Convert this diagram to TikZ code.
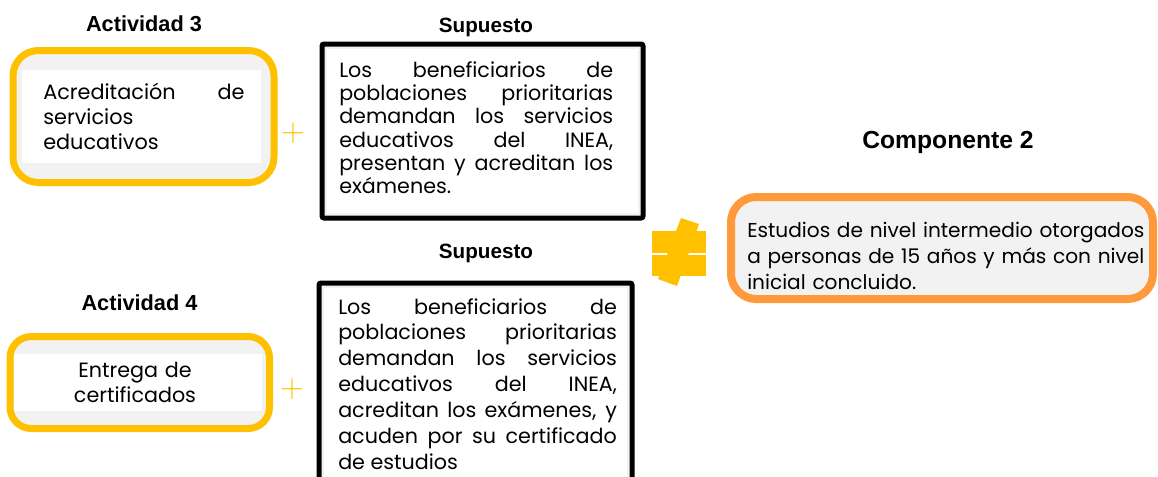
\documentclass[tikz,border=0pt]{standalone}
\usepackage{fontspec}
\setmainfont{Poppins}
\newfontfamily\labelfont{Liberation Sans}
\definecolor{gold}{HTML}{FFC000}
\definecolor{orng}{HTML}{FF9A3C}
\definecolor{lgray}{HTML}{F2F2F2}
\begin{document}
\begin{tikzpicture}[x=0.75pt,y=-0.75pt,
  title/.style={font=\labelfont\bfseries\fontsize{16.3}{19}\selectfont, inner sep=0, anchor=base},
  bodytext/.style={font=\fontsize{15.5}{17.5}\selectfont, inner sep=0, anchor=base west, align=justify},
  actbox/.style={draw=gold, fill=lgray, line width=5.25pt, rounded corners=19pt},
  supbox/.style={draw=black, fill=white, line width=3.75pt, rounded corners=1.5pt},
  plussign/.style={text=gold, font=\fontsize{25}{25}\selectfont, inner sep=0}
]
\useasboundingbox (0,0) rectangle (1158,476);
\clip (0,0) rectangle (1158,476);

% Actividad 3
\node[title] (t3) at (144,31) {Actividad 3};
\draw[actbox] (13,50.5) rectangle (274,182.5);
\fill[white] (22,70) rectangle (261,163);
\node[bodytext, font=\fontsize{15.6}{19.1}\selectfont, text width=151pt] (a3) at (43,99)
  {Acreditación de\linebreak servicios\\educativos};
\node[plussign] (p3) at (293,133) {$\mathbf{+}$};

% Supuesto 1
\node[title, font=\labelfont\bfseries\fontsize{15.5}{18}\selectfont] (s1t) at (486,32) {Supuesto};
\draw[supbox] (322,44) rectangle (643,218);
\draw[lgray, line width=2pt] (326,48) rectangle (639,214);
\node[bodytext, text width=205.5pt] (s1) at (339,77)
  {Los beneficiarios de\linebreak poblaciones prioritarias\linebreak demandan los servicios\linebreak educativos del INEA,\linebreak presentan y acreditan los\linebreak exámenes.};

% Equal / not-equal sign
\fill[gold] (652,231) rectangle (706,252.5);
\fill[gold] (652,254.5) rectangle (706,276);
\fill[gold] (681,218) -- (699,224) -- (677,286) -- (658,279) -- cycle;

% Componente 2
\node[title, font=\labelfont\bfseries\fontsize{18.5}{21}\selectfont] (ct) at (948,148) {Componente 2};
\draw[draw=orng, fill=lgray, line width=6pt, rounded corners=19pt] (731,197) rectangle (1153,299);
\node[bodytext, font=\fontsize{15.1}{19.8}\selectfont, text width=310pt, align=left] (c2) at (747,237)
  {Estudios de nivel intermedio otorgados\\a personas de 15 años y más con nivel\\inicial concluido.};

% Actividad 4
\node[title] (t4) at (139.5,310) {Actividad 4};
\draw[actbox, rounded corners=16pt] (10,336.5) rectangle (269.5,428.5);
\fill[white] (14,354) rectangle (262,411);
\node[bodytext, font=\fontsize{15.5}{19.1}\selectfont, text width=180pt, align=center, anchor=base] (a4) at (135,377)
  {Entrega de\\certificados};
\node[plussign] (p4) at (292,389) {$\mathbf{+}$};

% Supuesto 2
\node[title, font=\labelfont\bfseries\fontsize{15.5}{18}\selectfont] (s2t) at (486,258) {Supuesto};
\draw[supbox] (319,283) rectangle (632,500);
\draw[lgray, line width=2pt] (323,287) rectangle (628,496);
\node[bodytext, font=\fontsize{15.5}{19.4}\selectfont, text width=209pt] (s2) at (338,314)
  {Los beneficiarios de\linebreak poblaciones prioritarias\linebreak demandan los servicios\linebreak educativos del INEA,\linebreak acreditan los exámenes, y\linebreak acuden por su certificado\linebreak de estudios};
\end{tikzpicture}
\end{document}
